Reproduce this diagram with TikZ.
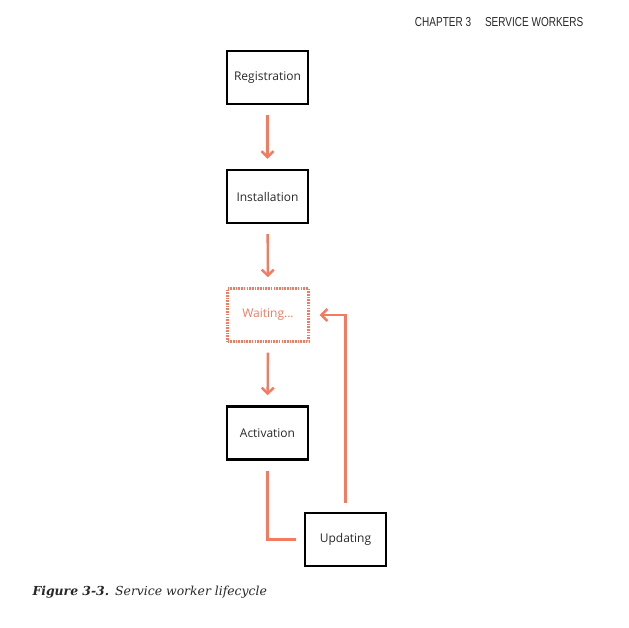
\documentclass[tikz,border=0pt]{standalone}
\usepackage{fontspec}
\usetikzlibrary{arrows.meta}
\setmainfont{DejaVu Serif}
\newfontfamily\boxfont{Open Sans}
\newfontfamily\headfont{Liberation Sans}
\definecolor{coral}{RGB}{244,122,96}
\definecolor{ink}{RGB}{40,40,40}

\begin{document}
\begin{tikzpicture}[
    x=1pt, y=-1pt,
    stage/.style={rectangle, draw=black, line width=2.4pt, minimum width=81pt, minimum height=53pt, inner sep=0pt, font=\boxfont\fontsize{12}{14}\selectfont, text=ink},
    pending/.style={stage, draw=coral, text=coral, dash pattern=on 1.6pt off 1.1pt},
    arrow/.style={-{Straight Barb[length=6pt,width=12pt]}, coral, line width=2.4pt, shorten <=10pt, shorten >=10pt},
    link/.style={coral, line width=2.4pt}]

\useasboundingbox (0,0) rectangle (629,627);

% Header
\node[font=\headfont\fontsize{13}{15}\selectfont, text=ink, xscale=0.77, anchor=east] (head) at (586,22) {CHAPTER 3\hspace{18pt}SERVICE WORKERS};

% Stages
\node[stage] (reg) at (267.5,77.5) {Registration};
\node[stage] (inst) at (267.5,196.5) {Installation};
\node[pending] (wait) at (268,315) {Waiting...};
\node[stage] (act) at (267.5,433) {Activation};
\node[stage] (upd) at (345.5,539.5) {Updating};

% Arrows between stages
\draw[arrow] (reg) -- (inst);
\draw[arrow] (inst) -- (wait);
\draw[arrow] (wait) -- (act);
\draw[link, shorten <=10pt, shorten >=8pt] (act.south) |- (upd.west);
\draw[arrow, shorten <=9pt] (upd.north) |- (wait.east);

% Caption
\node[anchor=west, font=\fontsize{12.4}{14}\selectfont, text=ink] (cap) at (29,592) {\textbf{\textit{Figure 3-3.}}\hspace{6pt}\textit{Service worker lifecycle}};

\end{tikzpicture}
\end{document}
